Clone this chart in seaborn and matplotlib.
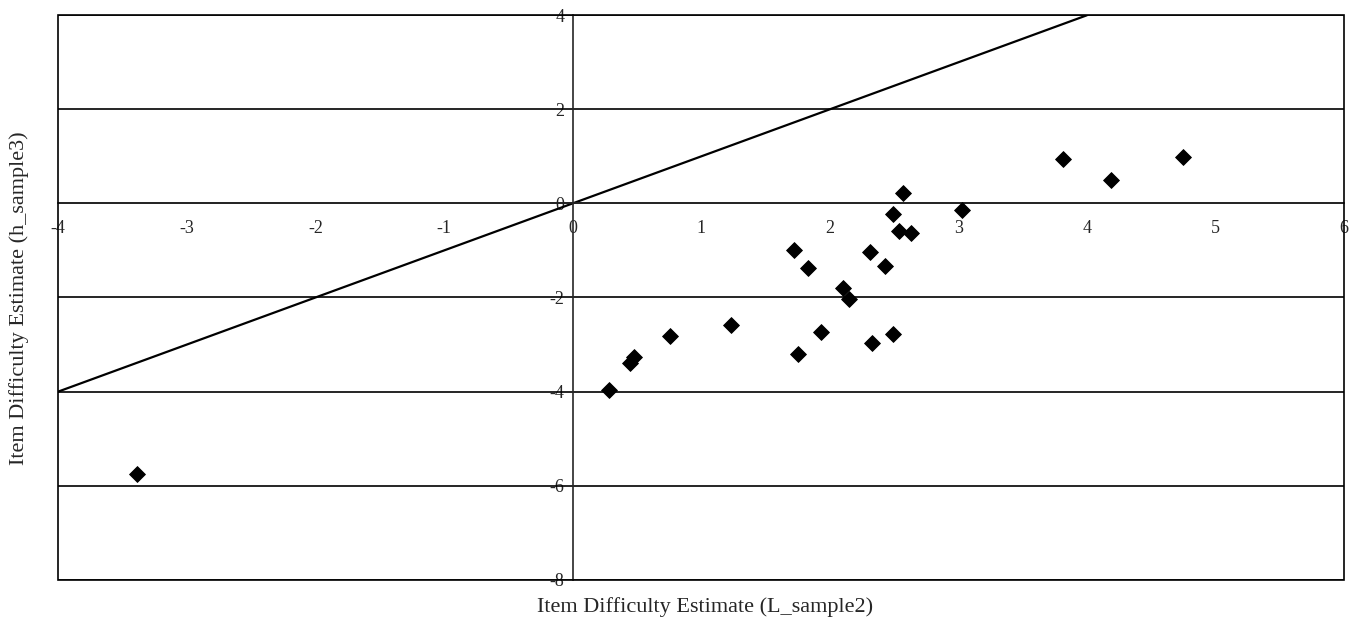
import pandas as pd
import seaborn as sns
import matplotlib.pyplot as plt
from matplotlib.patches import Rectangle

# item difficulty estimates
l_sample2 = [-3.39, 0.28, 0.45, 0.48, 0.76, 1.23, 1.75, 1.93, 2.33, 2.49,
             2.10, 2.15, 1.72, 1.83, 2.31, 2.43, 2.49, 2.54, 2.63, 2.57,
             3.03, 3.81, 4.19, 4.75]
h_sample3 = [-5.76, -3.96, -3.39, -3.27, -2.82, -2.58, -3.21, -2.74, -2.97, -2.77,
             -1.80, -2.03, -1.00, -1.37, -1.04, -1.32, -0.22, -0.59, -0.63, 0.22,
             -0.13, 0.95, 0.50, 0.98]

# identity line y = x
ident_x = [-4, 4]
ident_y = [-4, 4]

x_ticks = [-4, -3, -2, -1, 0, 1, 2, 3, 4, 5, 6]
y_ticks = [-8, -6, -4, -2, 0, 2, 4]

df = pd.DataFrame({'L_sample2': l_sample2, 'h_sample3': h_sample3})
df_line = pd.DataFrame({'x': ident_x, 'y': ident_y})

sns.set_style('white')
plt.rcParams['font.family'] = ['Liberation Serif', 'DejaVu Serif']

fig = plt.figure(figsize=(13.55, 6.35), dpi=100)
ax = fig.add_axes([0.043, 0.087, 0.949, 0.889])

ax.set_xlim(-4, 6)
ax.set_ylim(-8, 4)

# horizontal gridlines every 2 units
for yv in y_ticks:
    ax.axhline(yv, color='black', lw=1.2, zorder=1)

sns.lineplot(data=df_line, x='x', y='y', ax=ax, color='black', lw=1.6, zorder=2)
sns.scatterplot(data=df, x='L_sample2', y='h_sample3', ax=ax, marker='D',
                s=65, color='black', edgecolor='black', zorder=3)

# axes cross at origin
for side in ['top', 'right']:
    ax.spines[side].set_visible(False)
ax.spines['left'].set_position(('data', 0))
ax.spines['bottom'].set_position(('data', 0))
ax.spines['left'].set_linewidth(1.2)
ax.spines['bottom'].set_linewidth(1.2)

# outer frame
ax.add_patch(Rectangle((0, 0), 1, 1, transform=ax.transAxes, fill=False,
                       edgecolor='black', lw=1.2, clip_on=False, zorder=4))

ax.set_xticks(x_ticks)
ax.set_yticks(y_ticks)
ax.set_xticklabels([str(v) for v in x_ticks])
ax.set_yticklabels([str(v) for v in y_ticks])
ax.tick_params(axis='x', direction='in', length=5, width=1, pad=12, labelsize=13)
ax.tick_params(axis='y', direction='out', length=4, width=1, pad=2, labelsize=13)

ax.set_xlabel('')
ax.set_ylabel('')
fig.text(0.52, 0.044, 'Item Difficulty Estimate (L_sample2)', ha='center',
         va='center', fontsize=16)
fig.text(0.014, 0.53, 'Item Difficulty Estimate (h_sample3)', ha='center',
         va='center', rotation=90, fontsize=16)

fig.savefig('out.png', dpi=100)
